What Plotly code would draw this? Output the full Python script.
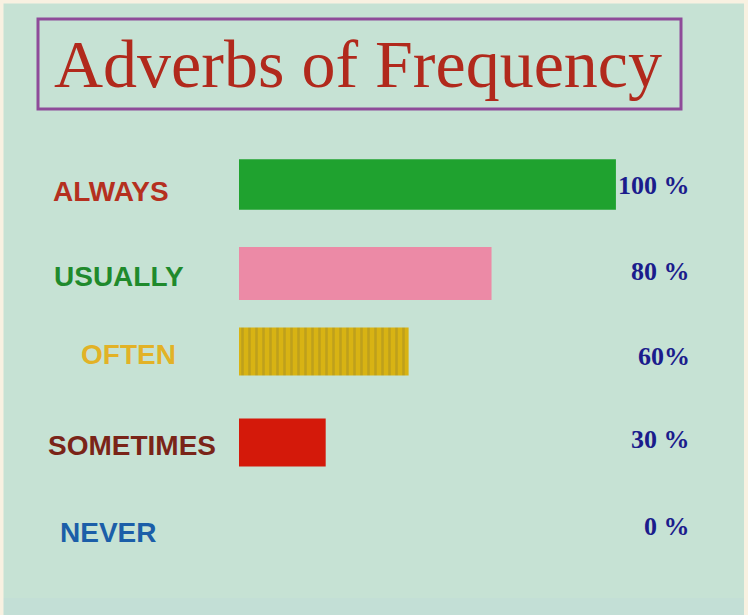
import plotly.graph_objects as go

# ---- data ----
categories = ["ALWAYS", "USUALLY", "OFTEN", "SOMETIMES", "NEVER"]
percent_labels = ["100 %", "80 %", "60%", "30 %", "0 %"]
# relative bar lengths as drawn in the picture (ALWAYS bar = 100)
bar_lengths = [100, 67, 45, 23, 0]
title_text = "Adverbs of Frequency"

# ---- styles ----
bar_colors = ["#1fa22f", "#ec8aa6", "#d8b313", "#d4190a", "#d4190a"]
bar_widths = [0.58, 0.61, 0.55, 0.55, 0.55]
bar_offsets = [-0.279, -0.27, -0.344, -0.298, -0.275]
label_colors = ["#b5301f", "#1f8a2c", "#e2b226", "#7a2418", "#1b5ea8"]
label_x_px = [51, 52, 79, 46, 58]          # left edge of each label (pixels)
label_yshift = [-8, -6, 3, -1, -1]
pct_yshift = [-2, -1, 1, 5, 5]

W, H = 748, 615
L, R, T, B = 239, 19, 140, 40
pw, ph = W - L - R, H - T - B
XMAX = 130.0


def px_x(px):
    return (px - L) / pw


def px_y(py):
    return (H - B - py) / ph


fig = go.Figure()
fig.add_trace(go.Bar(
    y=categories,
    x=bar_lengths,
    orientation="h",
    width=bar_widths,
    offset=bar_offsets,
    marker=dict(
        color=bar_colors,
        line=dict(width=0),
        pattern=dict(
            shape=["", "", "|", "", ""],
            fillmode="overlay",
            fgcolor="#b89400",
            fgopacity=0.18,
            size=7,
            solidity=0.35,
        ),
    ),
    hoverinfo="skip",
    showlegend=False,
))

annotations = []
for i, cat in enumerate(categories):
    annotations.append(dict(
        x=px_x(label_x_px[i]), xref="paper", xanchor="left",
        y=cat, yref="y", yanchor="middle", yshift=label_yshift[i],
        text=cat, showarrow=False,
        font=dict(family="Liberation Sans, Arial, sans-serif", size=28,
                  color=label_colors[i], weight="bold"),
    ))
    annotations.append(dict(
        x=px_x(692), xref="paper", xanchor="right",
        y=cat, yref="y", yanchor="middle", yshift=pct_yshift[i],
        text=percent_labels[i], showarrow=False,
        font=dict(family="Liberation Serif, Times New Roman, serif", size=26,
                  color="#1b1c8c", weight="bold"),
    ))

# title
annotations.append(dict(
    x=px_x(358), xref="paper", xanchor="center",
    y=px_y(64), yref="paper", yanchor="middle",
    text=title_text, showarrow=False,
    font=dict(family="Liberation Serif, Times New Roman, serif", size=68,
              color="#b1291c"),
))

shapes = [
    # title frame
    dict(type="rect", xref="paper", yref="paper",
         x0=px_x(38), x1=px_x(681), y0=px_y(19), y1=px_y(109),
         line=dict(color="#8e4b99", width=3), fillcolor="rgba(0,0,0,0)"),
    # bottom band
    dict(type="rect", xref="paper", yref="paper", layer="below",
         x0=px_x(0), x1=px_x(W), y0=px_y(H), y1=px_y(598),
         line=dict(width=0), fillcolor="#c3dfd6"),
    # cream outer frame
    dict(type="rect", xref="paper", yref="paper",
         x0=px_x(1.5), x1=px_x(W - 2), y0=px_y(H + 2), y1=px_y(1.5),
         line=dict(color="#f8f1e1", width=4), fillcolor="rgba(0,0,0,0)"),
]

fig.update_layout(
    width=W, height=H,
    margin=dict(l=L, r=R, t=T, b=B),
    paper_bgcolor="#c6e2d4",
    plot_bgcolor="#c6e2d4",
    annotations=annotations,
    shapes=shapes,
    bargap=0.4,
    xaxis=dict(range=[0, XMAX], visible=False, showgrid=False, zeroline=False),
    yaxis=dict(categoryorder="array", categoryarray=categories,
               autorange="reversed", visible=False, showgrid=False,
               zeroline=False),
)

fig.write_html(
    "out.html",
    config={"displayModeBar": False},
    post_script="document.body.style.margin='0';document.body.style.overflow='hidden';",
)
